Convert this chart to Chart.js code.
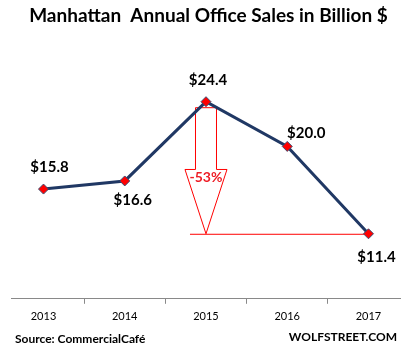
<!DOCTYPE html>
<html><head><meta charset="utf-8">
<script src="https://cdn.jsdelivr.net/npm/chart.js@4.4.1/dist/chart.umd.min.js"></script>
<style>html,body{margin:0;padding:0;background:#fff;}#wrap{position:relative;width:406px;height:356px;}</style>
</head><body><div id="wrap"><canvas id="c" width="406" height="356"></canvas></div>
<script>
const years = ['2013', '2014', '2015', '2016', '2017'];
const sales = [15.8, 16.6, 24.4, 20.0, 11.4];
const valueLabels = ['$15.8', '$16.6', '$24.4', '$20.0', '$11.4'];
const boundaryTicks = [2013.5, 2014.5, 2015.5, 2016.5];
const titleText = 'Manhattan  Annual Office Sales in Billion $';
const sourceText = 'Source: CommercialCafé';
const brandText = 'WOLFSTREET.COM';

// styling: label offsets from each marker (px)
const labelOffsets = [[6, -22], [8, 19], [2, -22], [19, -13], [8, 23]];
const FONT = 'Lato, "Open Sans", sans-serif';
Chart.defaults.font.family = FONT;

const overlay = {
  id: 'overlay',
  beforeDatasetsDraw(chart) {
    const {ctx, scales: {x, y}} = chart;
    const maxVal = Math.max(...sales);
    const iMax = sales.indexOf(maxVal);
    const last = sales[sales.length - 1];
    const xc = x.getPixelForValue(Number(years[iMax]));
    const xl = x.getPixelForValue(Number(years[years.length - 1]));
    const topY = y.getPixelForValue(maxVal) + 6;
    const tipY = y.getPixelForValue(last);
    const neckY = topY + (tipY - topY) * 0.49;
    const sw = 10.5, hw = 21;
    ctx.save();
    ctx.strokeStyle = '#ff0000';
    ctx.lineWidth = 1;
    ctx.beginPath();
    ctx.moveTo(xc - sw, topY);
    ctx.lineTo(xc + sw, topY);
    ctx.lineTo(xc + sw, neckY);
    ctx.lineTo(xc + hw, neckY);
    ctx.lineTo(xc, tipY);
    ctx.lineTo(xc - hw, neckY);
    ctx.lineTo(xc - sw, neckY);
    ctx.closePath();
    ctx.stroke();
    ctx.beginPath();
    ctx.moveTo(xc - 16, tipY + 0.5);
    ctx.lineTo(xl, tipY + 0.5);
    ctx.stroke();
    const pct = Math.round((last - maxVal) / maxVal * 100);
    ctx.fillStyle = '#ee1c25';
    ctx.font = 'bold 14px ' + FONT;
    ctx.textAlign = 'center';
    ctx.textBaseline = 'middle';
    ctx.fillText(pct + '%', xc, neckY + 8);
    ctx.restore();
  },
  afterDraw(chart) {
    const {ctx, scales: {x, y}} = chart;
    ctx.save();
    ctx.fillStyle = '#000';
    ctx.font = 'bold 15px ' + FONT;
    ctx.textAlign = 'center';
    ctx.textBaseline = 'middle';
    sales.forEach((v, i) => {
      const px = x.getPixelForValue(Number(years[i]));
      const py = y.getPixelForValue(v);
      ctx.fillText(valueLabels[i], px + labelOffsets[i][0], py + labelOffsets[i][1]);
    });
    ctx.font = 'bold 12px ' + FONT;
    ctx.textAlign = 'left';
    ctx.fillText(sourceText, 15, 339);
    ctx.textAlign = 'right';
    ctx.fillText(brandText, 397, 337);
    ctx.restore();
  }
};

new Chart(document.getElementById('c'), {
  type: 'line',
  data: {
    datasets: [{
      data: years.map((yr, i) => ({x: Number(yr), y: sales[i]})),
      borderColor: '#203864',
      borderWidth: 3,
      pointStyle: 'rectRot',
      pointRadius: 5,
      pointBackgroundColor: '#ff0000',
      pointBorderColor: '#3a4d72',
      pointBorderWidth: 1,
      tension: 0,
      clip: false
    }]
  },
  options: {
    responsive: false,
    animation: false,
    events: [],
    layout: {padding: {left: 11, right: 0, top: 0, bottom: 27}},
    plugins: {
      legend: {display: false},
      tooltip: {enabled: false},
      title: {display: true, text: titleText, color: '#000', font: {size: 19, weight: 'bold'}, padding: {top: 4, bottom: 18}}
    },
    scales: {
      y: {display: false, min: 5, max: 30},
      xb: {
        type: 'linear', position: 'bottom', weight: 0, min: 2012.6, max: 2017.388,
        afterBuildTicks: s => { s.ticks = boundaryTicks.map(v => ({value: v})); },
        ticks: {display: false},
        grid: {drawOnChartArea: false, drawTicks: true, tickLength: 5, color: '#898989'},
        border: {display: true, color: '#898989', width: 1}
      },
      x: {
        type: 'linear', position: 'bottom', weight: 1, min: 2012.6, max: 2017.388,
        afterBuildTicks: s => { s.ticks = years.map(v => ({value: Number(v)})); },
        ticks: {callback: (v, i) => years[i], padding: 6, font: {size: 11}, color: '#000', maxRotation: 0, autoSkip: false},
        grid: {display: false, drawTicks: false},
        border: {display: false}
      }
    }
  },
  plugins: [overlay]
});
</script>
</body></html>
